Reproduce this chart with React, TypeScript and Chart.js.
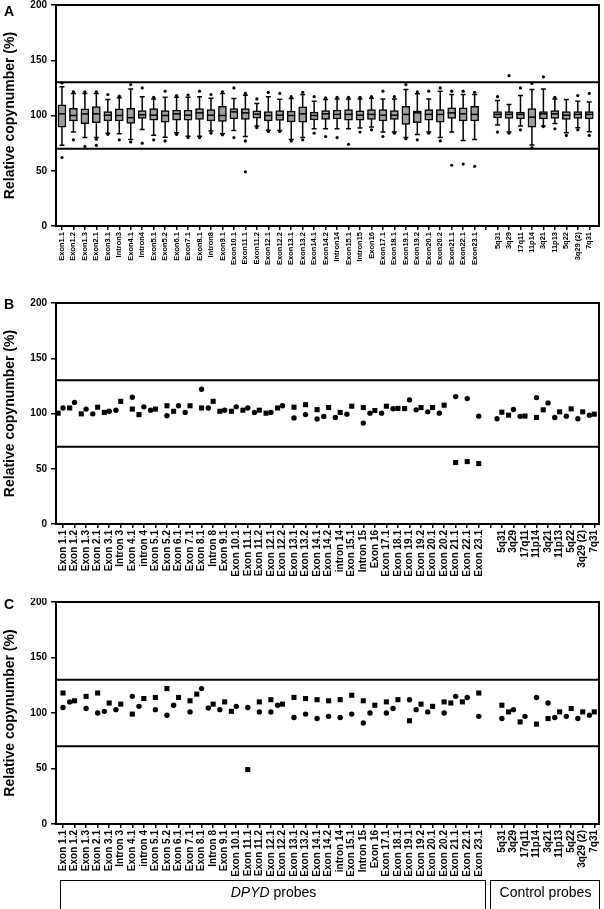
import React, { useEffect, useRef } from 'react';
import { Chart, registerables } from 'chart.js';

Chart.register(...registerables);

const FONT = '"Liberation Sans", Arial, Helvetica, sans-serif';

// ---------- categories ----------
const LABELS_A = ['Exon1.1','Exon1.2','Exon1.3','Exon2.1','Exon3.1','Intron3','Exon4.1','Intron4','Exon5.1','Exon5.2','Exon6.1','Exon7.1','Exon8.1','Intron8','Exon9.1','Exon10.1','Exon11.1','Exon11.2','Exon12.1','Exon12.2','Exon13.1','Exon13.2','Exon14.1','Exon14.2','Intron14','Exon15.1','Intron15','Exon16','Exon17.1','Exon18.1','Exon19.1','Exon19.2','Exon20.1','Exon20.2','Exon21.1','Exon22.1','Exon23.1','','5q31','3q29','17q11','11p14','3q21','11p13','5q22','3q29 (2)','7q31'];
const LABELS_BC = ['Exon 1.1','Exon 1.2','Exon 1.3','Exon 2.1','Exon 3.1','Intron 3','Exon 4.1','intron 4','Exon 5.1','Exon 5.2','Exon 6.1','Exon 7.1','Exon 8.1','Intron 8','Exon 9.1','Exon 10.1','Exon 11.1','Exon 11.2','Exon 12.1','Exon 12.2','Exon 13.1','Exon 13.2','Exon 14.1','Exon 14.2','intron 14','Exon 15.1','Intron 15','Exon 16','Exon 17.1','Exon 18.1','Exon 19.1','Exon 19.2','Exon 20.1','Exon 20.2','Exon 21.1','Exon 22.1','Exon 23.1','','5q31','3q29','17q11','11p14','3q21','11p13','5q22','3q29 (2)','7q31'];

const Y_TICKS = [0, 50, 100, 150, 200];
const REF_LEVELS = [70, 130];

// ---------- panel A: box plot statistics ----------
const BOX_MIN = [73,85,80,80,84,83.5,78.3,87.3,82.2,80.4,84.3,81.3,81.3,86,83.4,86.4,81,90.4,86.7,86.4,78.3,80,88,88,88,88,88.6,89.5,85,85,80,82.8,85,80,85,77.4,78.3,null,91.3,85,90.4,73.2,90.4,92.8,84.3,88.9,85.2];
const BOX_Q1 = [89.5,95,92.5,93.4,95.2,95,92.8,97.3,95.8,94,95.8,95.8,96.4,95,94.6,97,96.4,97.6,95.2,95.5,94.3,94,96,96.4,97,95.8,95.8,96.4,95,96.4,92,93.4,95.8,94,97.3,95,95,null,97.9,97.3,97,89.5,97,97.3,96.4,97.3,97];
const BOX_MED = [101.5,100,101.5,101.5,100.3,100,98,100.6,100.3,100,101.5,100.3,102.4,100.3,100,103.3,102.4,101.2,100,100.3,100,101.5,100,101.5,101,101,100.3,101,100.3,100.3,101,102.4,101,101,102.4,101.5,101,null,101,101,101,98.5,101.5,101.5,100.3,101,101];
const BOX_Q3 = [109.6,106.5,106,108,103.6,106,106.6,104.5,106.3,104.5,104.8,104.8,106.3,105.4,108.4,106.3,106.3,104.2,103.6,104.5,104,107.8,103,104.5,104.8,105.4,104.2,105.4,105.4,104.5,108.4,104.2,105.4,105.4,107,107,108.4,null,103.6,103.6,103,106.3,103.6,104.5,103.6,103.6,103.6];
const BOX_MAX = [126,120,120,120,114.5,116,124,117,115,116.6,116.6,116.6,117,115.7,120,115.4,118.4,110.8,117,114.8,115.4,119,113,114.5,115,115,115,115.7,115,115,123.5,119.6,115,122,119,119,119,null,113.5,110,118,123.5,124,115,114.5,113,112.3];
const BOX_OUTLIERS = [[129.5,62],[121.5,78],[121.5,72],[121.5,78.5,73],[119,83],[117.5,78],[128,76],[125,75],[116.5,78],[122,77],[118,83],[118.5,80],[122,80],[119,84],[121.5,82.5],[125,80],[120,77,49],[115,89],[121,85.5],[120,85.5],[117,77],[121,78],[117,84],[116,81],[116.5,80],[116.5,74],[116.5,85],[117,87],[122,81],[117,84],[128,79],[121.5,78],[122,84],[125,77],[122,55],[122,56],[121,54],[],[117,85],[136,84],[125,87],[129,71],[135,90],[116.5,88],[82],[118,87],[120,82]];

// ---------- panel B ----------
const B_SQUARE = [100.3,105,99.7,105.7,101,111,104,99,104,107,102,107,105,111,102,102,103,103,100.3,105,105.7,108,103.5,105.4,101,106.6,105.4,102.7,106.6,104.6,104.5,105.4,105.4,107.5,55.6,56.5,54.7,null,101.2,98.5,97.7,96.4,103.3,101.5,104.2,101.5,99.4];
const B_CIRCLE = [105,110,104,99.7,102,103,114.7,106,103,98,107,101,122,105,103,106,105,101,101,107,96,99,95,97.3,96.4,99.4,91.3,100.3,100.3,104.3,112.3,103.3,101.5,100.3,115.3,113.5,97.6,null,95.2,103.6,97.4,114.4,109.6,96.4,97.6,95.2,98.5];

// ---------- panel C ----------
const C_SQUARE = [118,111,115,118,109,108,99,113,114,122,114,111,117,108,110,101.5,49,110,112,108,114,113,112,111,112,116,111,107,110,112,93,108,106,110,109,110,118,null,107,101,92,90,95,101,104,101,101];
const C_CIRCLE = [105,110,104,100,101.5,103,115,106,103,98,107,101,122,104.5,103,106,105,101,101,107,96,99,95,97,96,99,91,100,100,104,112,103,101,100,115,114,97,null,95,103,97,114,109,96,97,95,98];

const BLACK = '#000';
const tickFont = (size: number) => ({ family: FONT, size, weight: 'bold' as const });

function dodged(own: (number | null)[], other: (number | null)[], isCircle: boolean) {
  const pts: { x: number; y: number }[] = [];
  own.forEach((v, i) => {
    if (v == null) return;
    const o = other[i];
    let dx = 0;
    if (o != null && Math.abs(v - o) < 8.5) {
      const lower = v < o || (v === o && isCircle);
      if (lower) dx = -0.42;
    }
    pts.push({ x: i + dx, y: v });
  });
  return pts;
}

const framePlugin = {
  id: 'frameRef',
  beforeDatasetsDraw(chart: any) {
    const { ctx, chartArea: a, scales } = chart;
    ctx.save();
    ctx.strokeStyle = BLACK;
    ctx.lineWidth = 2;
    REF_LEVELS.forEach((v) => {
      const py = scales.y.getPixelForValue(v);
      ctx.beginPath();
      ctx.moveTo(a.left, py);
      ctx.lineTo(a.right, py);
      ctx.stroke();
    });
    ctx.restore();
  },
  afterDraw(chart: any) {
    const { ctx, chartArea: a } = chart;
    ctx.save();
    ctx.strokeStyle = BLACK;
    ctx.lineWidth = 2;
    ctx.beginPath();
    ctx.moveTo(a.left - 1, a.top);
    ctx.lineTo(a.right, a.top);
    ctx.lineTo(a.right, a.bottom + 1);
    ctx.stroke();
    ctx.restore();
  },
};

const boxPlugin = {
  id: 'boxWhisker',
  beforeDatasetsDraw(chart: any) {
    const { ctx, scales } = chart;
    ctx.save();
    ctx.strokeStyle = BLACK;
    ctx.lineWidth = 1.5;
    BOX_MIN.forEach((mn, i) => {
      const mx = BOX_MAX[i];
      if (mn == null || mx == null) return;
      const px = scales.x.getPixelForValue(i);
      const y0 = scales.y.getPixelForValue(mn);
      const y1 = scales.y.getPixelForValue(mx);
      ctx.beginPath();
      ctx.moveTo(px, y0);
      ctx.lineTo(px, y1);
      ctx.moveTo(px - 2.5, y0);
      ctx.lineTo(px + 2.5, y0);
      ctx.moveTo(px - 2.5, y1);
      ctx.lineTo(px + 2.5, y1);
      ctx.stroke();
    });
    ctx.restore();
  },
  afterDatasetsDraw(chart: any) {
    const { ctx, scales } = chart;
    ctx.save();
    ctx.strokeStyle = BLACK;
    ctx.lineWidth = 1.5;
    BOX_MED.forEach((md, i) => {
      if (md == null) return;
      const px = scales.x.getPixelForValue(i);
      const py = scales.y.getPixelForValue(md);
      ctx.beginPath();
      ctx.moveTo(px - 4, py);
      ctx.lineTo(px + 4, py);
      ctx.stroke();
    });
    ctx.restore();
  },
};

function makeScales(labels: string[], xMin: number, xMax: number, labelSize: number, axisHeight: number) {
  return {
    x: {
      type: 'linear' as const,
      min: xMin,
      max: xMax,
      offset: false,
      afterBuildTicks: (s: any) => {
        s.ticks = labels.map((_, i) => ({ value: i }));
      },
      afterFit: (s: any) => {
        s.height = axisHeight;
        s.paddingLeft = 0;
        s.paddingRight = 0;
      },
      ticks: {
        autoSkip: false,
        minRotation: 90,
        maxRotation: 90,
        padding: 2,
        color: BLACK,
        font: tickFont(labelSize),
        callback: (v: any) => labels[v] ?? '',
      },
      grid: { drawOnChartArea: false, drawTicks: true, tickLength: 4, color: BLACK, lineWidth: 1.5, offset: false },
      border: { display: true, color: BLACK, width: 2 },
    },
    y: {
      min: 0,
      max: 200,
      afterBuildTicks: (s: any) => {
        s.ticks = Y_TICKS.map((v) => ({ value: v }));
      },
      afterFit: (s: any) => {
        s.width = 56;
        s.paddingTop = 0;
        s.paddingBottom = 0;
      },
      ticks: { padding: 4, color: BLACK, font: tickFont(10) },
      grid: { drawOnChartArea: false, drawTicks: true, tickLength: 5, color: BLACK, lineWidth: 1.5 },
      border: { display: true, color: BLACK, width: 2 },
      title: {
        display: true,
        text: 'Relative copynumber (%)',
        color: BLACK,
        font: { family: FONT, size: 14, weight: 'bold' as const },
        padding: { top: 2, bottom: 0 },
      },
    },
  };
}

const baseOptions = (scales: any, padTop: number) => ({
  responsive: false,
  animation: false as const,
  devicePixelRatio: 1,
  events: [] as any[],
  layout: { padding: { top: padTop, right: 5, left: 0, bottom: 0 } },
  plugins: { legend: { display: false }, tooltip: { enabled: false } },
  scales,
});

function useChart(ref: React.RefObject<HTMLCanvasElement>, build: () => any) {
  useEffect(() => {
    if (!ref.current) return;
    const chart = new Chart(ref.current, build());
    return () => chart.destroy();
  }, []);
}

export default function App() {
  const refA = useRef<HTMLCanvasElement>(null);
  const refB = useRef<HTMLCanvasElement>(null);
  const refC = useRef<HTMLCanvasElement>(null);

  useEffect(() => {
    document.body.style.margin = '0';
  }, []);

  useChart(refA, () => {
    const boxes: any[] = [];
    BOX_Q1.forEach((q1, i) => {
      if (q1 == null || BOX_Q3[i] == null) return;
      boxes.push({ x: i, y: [q1, BOX_Q3[i]] });
    });
    const outliers: any[] = [];
    BOX_OUTLIERS.forEach((arr, i) => arr.forEach((v) => outliers.push({ x: i, y: v })));
    return {
      type: 'bar',
      data: {
        datasets: [
          {
            type: 'bar',
            data: boxes,
            backgroundColor: '#9f9f9f',
            borderColor: BLACK,
            borderWidth: 1.5,
            borderSkipped: false,
            barThickness: 8,
          },
          {
            type: 'scatter',
            data: outliers,
            pointRadius: 1.6,
            pointBackgroundColor: BLACK,
            pointBorderWidth: 0,
          },
        ],
      },
      options: baseOptions(makeScales(LABELS_A, -0.52, 46.85, 7.5, 72), 5),
      plugins: [framePlugin, boxPlugin],
    };
  });

  const scatterConfig = (sq: (number | null)[], ci: (number | null)[], labelH: number, padTop: number) => ({
    type: 'scatter',
    data: {
      datasets: [
        {
          data: dodged(sq, ci, false),
          pointStyle: 'rect',
          pointRadius: 3.6,
          pointBackgroundColor: BLACK,
          pointBorderWidth: 0,
        },
        {
          data: dodged(ci, sq, true),
          pointStyle: 'circle',
          pointRadius: 2.7,
          pointBackgroundColor: BLACK,
          pointBorderWidth: 0,
        },
      ],
    },
    options: baseOptions(makeScales(LABELS_BC, -0.606, 46.41, 10, labelH), padTop),
    plugins: [framePlugin],
  });

  useChart(refB, () => scatterConfig(B_SQUARE, B_CIRCLE, 74, 5));
  useChart(refC, () => scatterConfig(C_SQUARE, C_CIRCLE, 85, 4));

  const letter = (t: string, top: number) => (
    <div style={{ position: 'absolute', left: 4, top, font: `bold 14px ${FONT}`, lineHeight: '14px', color: BLACK }}>{t}</div>
  );

  return (
    <div style={{ position: 'fixed', left: 0, top: 0, width: 604, height: 909, overflow: 'hidden', background: '#fff', fontFamily: FONT }}>
      <canvas ref={refA} width={604} height={298} style={{ position: 'absolute', left: 0, top: 0 }} />
      <canvas ref={refB} width={604} height={300} style={{ position: 'absolute', left: 0, top: 298 }} />
      <canvas ref={refC} width={604} height={311} style={{ position: 'absolute', left: 0, top: 598 }} />
      {letter('A', 4)}
      {letter('B', 297)}
      {letter('C', 597)}
      <div style={{ position: 'absolute', left: 60, top: 880, width: 424, height: 60, borderTop: '1.5px solid #000', borderLeft: '1.5px solid #000', borderRight: '1.5px solid #000' }} />
      <div style={{ position: 'absolute', left: 60, top: 884, width: 427, textAlign: 'center', font: `14px ${FONT}`, lineHeight: '16px', color: BLACK }}>
        <i>DPYD</i> probes
      </div>
      <div style={{ position: 'absolute', left: 490, top: 880, width: 108, height: 60, borderTop: '1.5px solid #000', borderLeft: '1.5px solid #000', borderRight: '1.5px solid #000' }} />
      <div style={{ position: 'absolute', left: 490, top: 884, width: 111, textAlign: 'center', font: `14px ${FONT}`, lineHeight: '16px', color: BLACK }}>
        Control probes
      </div>
    </div>
  );
}
